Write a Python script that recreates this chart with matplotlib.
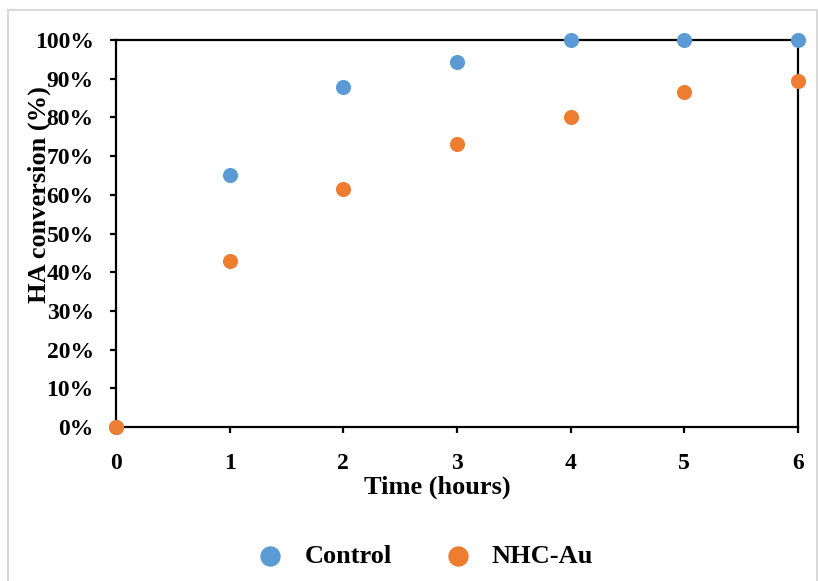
import matplotlib
matplotlib.use('Agg')
import matplotlib.pyplot as plt
from matplotlib.patches import Rectangle
from matplotlib.ticker import PercentFormatter

# ---------------------------------------------------
# DATA
# ---------------------------------------------------
hours = [0, 1, 2, 3, 4, 5, 6]
control = [0.0, 0.651, 0.879, 0.944, 1.0, 1.0, 1.0]
nhc_au = [0.0, 0.429, 0.614, 0.731, 0.801, 0.866, 0.894]
series_names = ['Control', 'NHC-Au']
series_colors = ['#5B9BD5', '#ED7D31']
# ---------------------------------------------------

plt.rcParams['font.family'] = ['Liberation Serif', 'DejaVu Serif']
plt.rcParams['font.weight'] = 'bold'

W, H = 818, 581
fig = plt.figure(figsize=(W / 100, H / 100), dpi=100)

# light grey chart border
fig.patches.append(Rectangle((8 / W, -0.01), (W - 9) / W, (H - 10) / H + 0.01,
                             transform=fig.transFigure, fill=False,
                             edgecolor='#d9d9d9', linewidth=1.5))

ax = fig.add_axes([116 / W, (H - 427) / H, (798 - 116) / W, (427 - 40) / H])

handles = []
for vals, name, col in zip([control, nhc_au], series_names, series_colors):
    h = ax.scatter(hours, vals, s=118, color=col, label=name, zorder=3, clip_on=False,
                   linewidths=0)
    handles.append(h)

ax.set_xlim(0, 6)
ax.set_ylim(0, 1)
ax.set_xticks(range(0, 7))
ax.set_yticks([i / 10 for i in range(11)])
ax.yaxis.set_major_formatter(PercentFormatter(1.0, decimals=0))

for sp in ax.spines.values():
    sp.set_linewidth(1.6)
    sp.set_color('black')

ax.tick_params(direction='out', length=4, width=1.6, labelsize=17)
ax.tick_params(axis='x', pad=15)
ax.tick_params(axis='y', pad=12)
for lbl in ax.get_xticklabels() + ax.get_yticklabels():
    lbl.set_fontweight('bold')

fig.text(437 / W, 1 - 487 / H, 'Time (hours)', ha='center', va='center',
         fontsize=19, fontweight='bold')
fig.text(39 / W, 1 - 195 / H, 'HA conversion (%)', ha='center', va='center',
         rotation=90, fontsize=19, fontweight='bold')

fig.legend(handles=handles, labels=series_names, loc='center',
           bbox_to_anchor=(425 / W, 1 - 556 / H), ncol=2, frameon=False,
           prop={'size': 19, 'weight': 'bold'}, handlelength=1.0,
           handletextpad=0.8, columnspacing=2.0, scatterpoints=1,
           markerscale=1.35, borderpad=0, borderaxespad=0)

fig.savefig('out.png', dpi=100)
